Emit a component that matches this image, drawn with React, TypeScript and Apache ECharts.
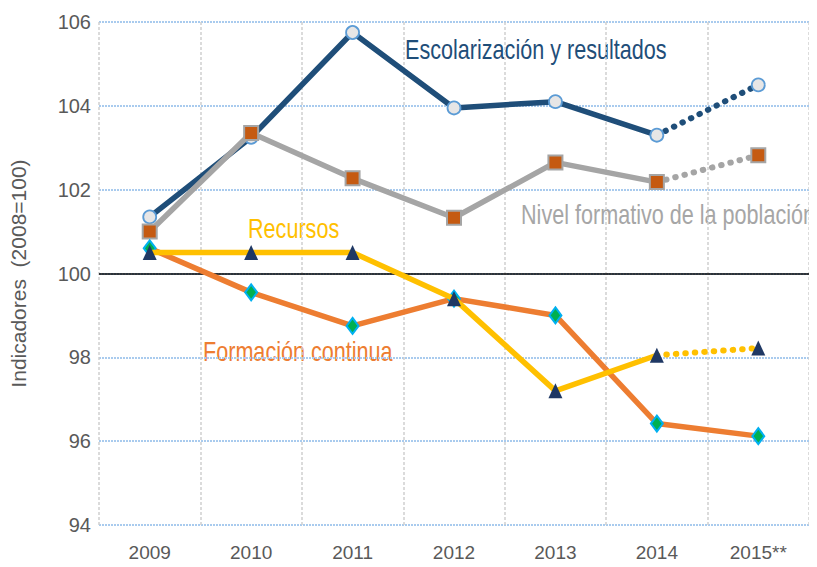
import React, { useEffect, useRef } from "react";
import * as echarts from "echarts";

const categories = ["2009", "2010", "2011", "2012", "2013", "2014", "2015**"];
const escolarizacion = [101.35, 103.25, 105.75, 103.95, 104.1, 103.3, null];
const escolarizacionProj = [null, null, null, null, null, 103.3, 104.5];
const nivelFormativo = [101.0, 103.35, 102.27, 101.33, 102.65, 102.18, null];
const nivelFormativoProj = [null, null, null, null, null, 102.18, 102.82];
const recursos = [100.5, 100.5, 100.5, 99.4, 97.2, 98.05, null];
const recursosProj = [null, null, null, null, null, 98.05, 98.22];
const formacionContinua = [100.6, 99.55, 98.75, 99.4, 99.0, 96.42, 96.12];
const yTicks = [94, 96, 98, 100, 102, 104, 106];

const SANS = '"Liberation Sans", Arial, sans-serif';

const lastOnly = (arr: (number | null)[]) => arr.map((v, i) => (i === arr.length - 1 ? v : null));

export default function App() {
  const ref = useRef<HTMLDivElement>(null);
  useEffect(() => {
    if (!ref.current) return;
    const chart = echarts.init(ref.current, undefined, { renderer: "svg" });
    const dotted = (color: string) => ({
      color,
      width: 6,
      type: [0.5, 9] as any,
      cap: "round" as any,
    });
    const circleStyle = { color: "#e7e6e6", borderColor: "#5b9bd5", borderWidth: 1.8 };
    const squareStyle = { color: "#c55a11", borderColor: "#a5a5a5", borderWidth: 2 };
    const triStyle = { color: "#1f3864" };
    const label = (text: string, x: number, y: number, fill: string) => ({
      type: "text",
      x,
      y,
      scaleX: 0.8,
      style: {
        text,
        fill,
        font: `27px ${SANS}`,
        verticalAlign: "middle",
      },
    });
    chart.setOption({
      animation: false,
      backgroundColor: "#ffffff",
      grid: { left: 98, right: 8, top: 22, bottom: 42, containLabel: false },
      xAxis: {
        type: "category",
        data: categories,
        boundaryGap: true,
        axisLine: { show: false },
        axisTick: { show: false },
        axisLabel: {
          color: "#595959",
          fontSize: 19,
          fontFamily: SANS,
          margin: 18,
          interval: 0,
        },
        splitLine: {
          show: true,
          interval: 0,
          lineStyle: { color: "#d0d0d0", width: 1.5, type: [3, 2] },
        },
      },
      yAxis: {
        type: "value",
        min: yTicks[0],
        max: yTicks[yTicks.length - 1],
        interval: 2,
        axisLine: { show: false },
        axisTick: { show: false },
        axisLabel: {
          color: "#595959",
          fontSize: 20,
          fontFamily: SANS,
          margin: 8,
        },
        splitLine: {
          show: true,
          lineStyle: { color: "#a9cbee", width: 2, type: [2, 1] },
        },
        name: "Indicadores  (2008=100)",
        nameLocation: "middle",
        nameGap: 70,
        nameTextStyle: {
          color: "#595959",
          fontSize: 21,
          fontFamily: SANS,
        },
      },
      series: [
        {
          name: "ref100",
          type: "line",
          data: [],
          markLine: {
            silent: true,
            symbol: "none",
            label: { show: false },
            lineStyle: { color: "#000000", width: 1.5, type: "solid" },
            data: [{ yAxis: 100 }],
          },
          z: 1,
        },
        {
          name: "Escolarización y resultados (proj)",
          type: "line",
          data: escolarizacionProj,
          symbol: "none",
          lineStyle: dotted("#1f4e79"),
          z: 2,
        },
        {
          name: "Escolarización y resultados",
          type: "line",
          data: escolarizacion,
          symbol: "circle",
          symbolSize: 13,
          itemStyle: circleStyle,
          lineStyle: { color: "#1f4e79", width: 5.5 },
          z: 3,
        },
        {
          name: "Escolarización (end marker)",
          type: "line",
          data: lastOnly(escolarizacionProj),
          symbol: "circle",
          symbolSize: 13,
          itemStyle: circleStyle,
          lineStyle: { width: 0 },
          z: 3,
        },
        {
          name: "Nivel formativo (proj)",
          type: "line",
          data: nivelFormativoProj,
          symbol: "none",
          lineStyle: dotted("#a5a5a5"),
          z: 4,
        },
        {
          name: "Nivel formativo de la población",
          type: "line",
          data: nivelFormativo,
          symbol: "rect",
          symbolSize: 14,
          itemStyle: squareStyle,
          lineStyle: { color: "#a5a5a5", width: 5.5 },
          z: 5,
        },
        {
          name: "Nivel (end marker)",
          type: "line",
          data: lastOnly(nivelFormativoProj),
          symbol: "rect",
          symbolSize: 14,
          itemStyle: squareStyle,
          lineStyle: { width: 0 },
          z: 5,
        },
        {
          name: "Formación continua",
          type: "line",
          data: formacionContinua,
          symbol: "diamond",
          symbolSize: [12, 16],
          itemStyle: { color: "#00b050", borderColor: "#00b0f0", borderWidth: 2 },
          lineStyle: { color: "#ed7d31", width: 5.5 },
          z: 6,
        },
        {
          name: "Recursos (proj)",
          type: "line",
          data: recursosProj,
          symbol: "none",
          lineStyle: dotted("#ffc000"),
          z: 7,
        },
        {
          name: "Recursos",
          type: "line",
          data: recursos,
          symbol: "triangle",
          symbolSize: [14, 15],
          itemStyle: triStyle,
          lineStyle: { color: "#ffc000", width: 5.5 },
          z: 8,
        },
        {
          name: "Recursos (end marker)",
          type: "line",
          data: lastOnly(recursosProj),
          symbol: "triangle",
          symbolSize: [14, 15],
          itemStyle: triStyle,
          lineStyle: { width: 0 },
          z: 9,
        },
      ],
      graphic: [
        label("Escolarización y resultados", 405, 50, "#1f4e79"),
        label("Nivel formativo de la población", 521, 215, "#a6a6a6"),
        label("Recursos", 248, 229, "#ffc000"),
        label("Formación continua", 203, 352, "#ed7d31"),
      ],
    });
    return () => chart.dispose();
  }, []);
  return <div ref={ref} style={{ width: 817, height: 567, margin: -8 }} />;
}
